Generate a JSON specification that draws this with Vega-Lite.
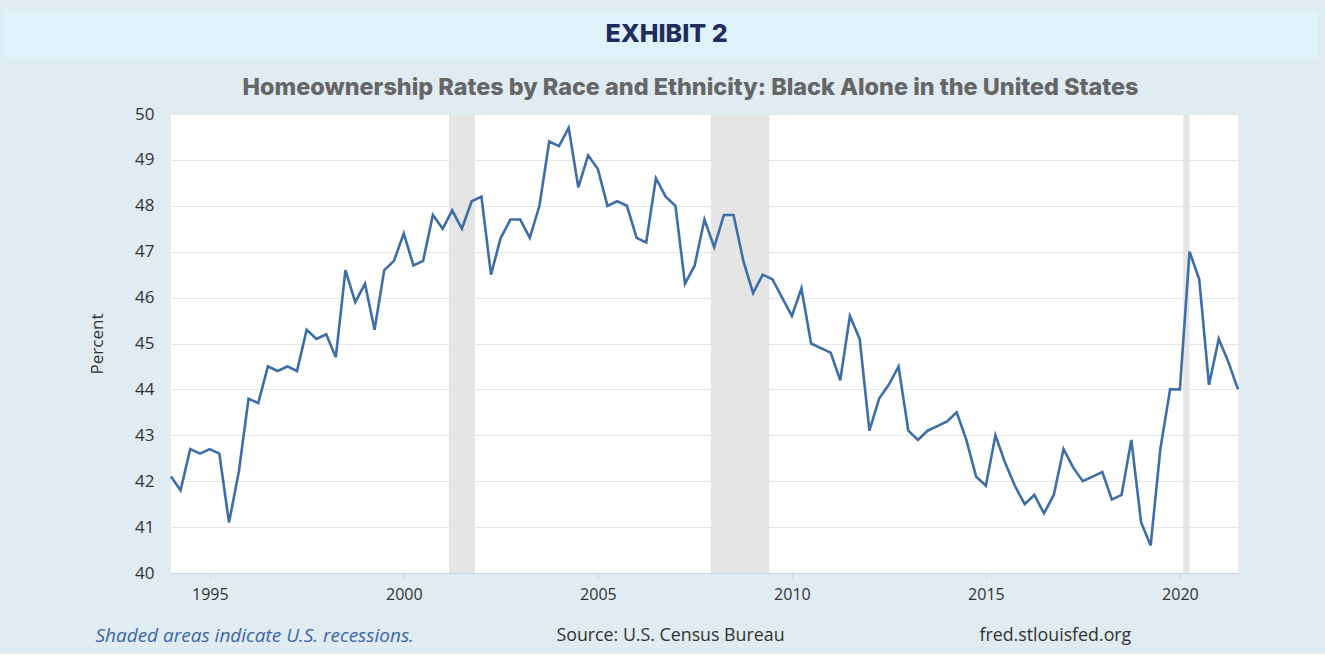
{
  "$schema": "https://vega.github.io/schema/vega-lite/v6.json",
  "background": "#e0ebf2",
  "padding": {"left": 3, "right": 7, "top": 10, "bottom": 1},
  "spacing": 17,
  "bounds": "full",
  "config": {
    "view": {"stroke": null},
    "font": "Open Sans"
  },
  "datasets": {
    "rates": [
      {"date": "1994-01-01", "rate": 42.1}, {"date": "1994-04-01", "rate": 41.8}, {"date": "1994-07-01", "rate": 42.7}, {"date": "1994-10-01", "rate": 42.6},
      {"date": "1995-01-01", "rate": 42.7}, {"date": "1995-04-01", "rate": 42.6}, {"date": "1995-07-01", "rate": 41.1}, {"date": "1995-10-01", "rate": 42.2},
      {"date": "1996-01-01", "rate": 43.8}, {"date": "1996-04-01", "rate": 43.7}, {"date": "1996-07-01", "rate": 44.5}, {"date": "1996-10-01", "rate": 44.4},
      {"date": "1997-01-01", "rate": 44.5}, {"date": "1997-04-01", "rate": 44.4}, {"date": "1997-07-01", "rate": 45.3}, {"date": "1997-10-01", "rate": 45.1},
      {"date": "1998-01-01", "rate": 45.2}, {"date": "1998-04-01", "rate": 44.7}, {"date": "1998-07-01", "rate": 46.6}, {"date": "1998-10-01", "rate": 45.9},
      {"date": "1999-01-01", "rate": 46.3}, {"date": "1999-04-01", "rate": 45.3}, {"date": "1999-07-01", "rate": 46.6}, {"date": "1999-10-01", "rate": 46.8},
      {"date": "2000-01-01", "rate": 47.4}, {"date": "2000-04-01", "rate": 46.7}, {"date": "2000-07-01", "rate": 46.8}, {"date": "2000-10-01", "rate": 47.8},
      {"date": "2001-01-01", "rate": 47.5}, {"date": "2001-04-01", "rate": 47.9}, {"date": "2001-07-01", "rate": 47.5}, {"date": "2001-10-01", "rate": 48.1},
      {"date": "2002-01-01", "rate": 48.2}, {"date": "2002-04-01", "rate": 46.5}, {"date": "2002-07-01", "rate": 47.3}, {"date": "2002-10-01", "rate": 47.7},
      {"date": "2003-01-01", "rate": 47.7}, {"date": "2003-04-01", "rate": 47.3}, {"date": "2003-07-01", "rate": 48.0}, {"date": "2003-10-01", "rate": 49.4},
      {"date": "2004-01-01", "rate": 49.3}, {"date": "2004-04-01", "rate": 49.7}, {"date": "2004-07-01", "rate": 48.4}, {"date": "2004-10-01", "rate": 49.1},
      {"date": "2005-01-01", "rate": 48.8}, {"date": "2005-04-01", "rate": 48.0}, {"date": "2005-07-01", "rate": 48.1}, {"date": "2005-10-01", "rate": 48.0},
      {"date": "2006-01-01", "rate": 47.3}, {"date": "2006-04-01", "rate": 47.2}, {"date": "2006-07-01", "rate": 48.6}, {"date": "2006-10-01", "rate": 48.2},
      {"date": "2007-01-01", "rate": 48.0}, {"date": "2007-04-01", "rate": 46.3}, {"date": "2007-07-01", "rate": 46.7}, {"date": "2007-10-01", "rate": 47.7},
      {"date": "2008-01-01", "rate": 47.1}, {"date": "2008-04-01", "rate": 47.8}, {"date": "2008-07-01", "rate": 47.8}, {"date": "2008-10-01", "rate": 46.8},
      {"date": "2009-01-01", "rate": 46.1}, {"date": "2009-04-01", "rate": 46.5}, {"date": "2009-07-01", "rate": 46.4}, {"date": "2009-10-01", "rate": 46.0},
      {"date": "2010-01-01", "rate": 45.6}, {"date": "2010-04-01", "rate": 46.2}, {"date": "2010-07-01", "rate": 45.0}, {"date": "2010-10-01", "rate": 44.9},
      {"date": "2011-01-01", "rate": 44.8}, {"date": "2011-04-01", "rate": 44.2}, {"date": "2011-07-01", "rate": 45.6}, {"date": "2011-10-01", "rate": 45.1},
      {"date": "2012-01-01", "rate": 43.1}, {"date": "2012-04-01", "rate": 43.8}, {"date": "2012-07-01", "rate": 44.1}, {"date": "2012-10-01", "rate": 44.5},
      {"date": "2013-01-01", "rate": 43.1}, {"date": "2013-04-01", "rate": 42.9}, {"date": "2013-07-01", "rate": 43.1}, {"date": "2013-10-01", "rate": 43.2},
      {"date": "2014-01-01", "rate": 43.3}, {"date": "2014-04-01", "rate": 43.5}, {"date": "2014-07-01", "rate": 42.9}, {"date": "2014-10-01", "rate": 42.1},
      {"date": "2015-01-01", "rate": 41.9}, {"date": "2015-04-01", "rate": 43.0}, {"date": "2015-07-01", "rate": 42.4}, {"date": "2015-10-01", "rate": 41.9},
      {"date": "2016-01-01", "rate": 41.5}, {"date": "2016-04-01", "rate": 41.7}, {"date": "2016-07-01", "rate": 41.3}, {"date": "2016-10-01", "rate": 41.7},
      {"date": "2017-01-01", "rate": 42.7}, {"date": "2017-04-01", "rate": 42.3}, {"date": "2017-07-01", "rate": 42.0}, {"date": "2017-10-01", "rate": 42.1},
      {"date": "2018-01-01", "rate": 42.2}, {"date": "2018-04-01", "rate": 41.6}, {"date": "2018-07-01", "rate": 41.7}, {"date": "2018-10-01", "rate": 42.9},
      {"date": "2019-01-01", "rate": 41.1}, {"date": "2019-04-01", "rate": 40.6}, {"date": "2019-07-01", "rate": 42.7}, {"date": "2019-10-01", "rate": 44.0},
      {"date": "2020-01-01", "rate": 44.0}, {"date": "2020-04-01", "rate": 47.0}, {"date": "2020-07-01", "rate": 46.4}, {"date": "2020-10-01", "rate": 44.1},
      {"date": "2021-01-01", "rate": 45.1}, {"date": "2021-04-01", "rate": 44.6}, {"date": "2021-07-01", "rate": 44.0}
    ],
    "recessions": [
      {"start": "2001-03-01", "end": "2001-11-01"},
      {"start": "2007-12-01", "end": "2009-06-01"},
      {"start": "2020-02-01", "end": "2020-04-01"}
    ],
    "notes": [
      {"slot": "left", "note": "Shaded areas indicate U.S. recessions."},
      {"slot": "middle", "note": "Source: U.S. Census Bureau"},
      {"slot": "right", "note": "fred.stlouisfed.org"}
    ]
  },
  "vconcat": [
    {
      "width": 1315,
      "height": 48,
      "view": {"fill": "#dff1f9", "stroke": null},
      "data": {"values": [{"label": "EXHIBIT 2"}]},
      "mark": {"type": "text", "font": "Inter", "fontWeight": 800, "fontSize": 25, "color": "#1f2d5c", "baseline": "middle", "align": "center", "dx": 6},
      "encoding": {"text": {"field": "label"}}
    },
    {
      "hconcat": [
        {
          "width": 85,
          "height": 459,
          "view": {"fill": "#e0ebf2", "stroke": null},
          "data": {"values": [{"blank": ""}]},
          "mark": {"type": "text"},
          "encoding": {"text": {"field": "blank"}}
        },
        {
          "width": 1067,
          "height": 459,
          "view": {"fill": "white", "stroke": null},
          "title": {
            "text": "Homeownership Rates by Race and Ethnicity: Black Alone in the United States",
            "font": "Inter",
            "fontWeight": 800,
            "fontSize": 23.4,
            "color": "#666666",
            "anchor": "middle",
            "dx": -14,
            "offset": 5
          },
          "layer": [
            {
              "data": {"name": "recessions"},
              "mark": {"type": "rect", "color": "#e5e5e5"},
              "encoding": {
                "x": {"field": "start", "type": "temporal"},
                "x2": {"field": "end"}
              }
            },
            {
              "data": {"name": "rates"},
              "mark": {"type": "line", "color": "#3d6fa6", "strokeWidth": 2.6},
              "encoding": {
                "x": {
                  "field": "date",
                  "type": "temporal",
                  "scale": {
                    "type": "utc",
                    "domain": [
                      {"year": 1994, "month": 1, "date": 1, "utc": true},
                      {"year": 2021, "month": 7, "date": 1, "utc": true}
                    ]
                  },
                  "axis": {
                    "title": null,
                    "format": "%Y",
                    "formatType": "utc",
                    "tickCount": {"interval": "year", "step": 5},
                    "grid": false,
                    "domainColor": "#c7d4e6",
                    "tickColor": "#c7d4e6",
                    "tickSize": 5,
                    "labelFont": "Open Sans",
                    "labelFontSize": 16,
                    "labelColor": "#333333",
                    "labelPadding": 8
                  }
                },
                "y": {
                  "field": "rate",
                  "type": "quantitative",
                  "scale": {"domain": [40, 50], "nice": false, "zero": false},
                  "axis": {
                    "title": "Percent",
                    "titleFont": "Open Sans",
                    "titleFontSize": 17,
                    "titleFontWeight": "normal",
                    "titleColor": "#333333",
                    "titlePadding": 28,
                    "values": [40, 41, 42, 43, 44, 45, 46, 47, 48, 49, 50],
                    "domain": false,
                    "ticks": false,
                    "labelPadding": 17,
                    "labelFont": "Open Sans",
                    "labelFontSize": 17,
                    "labelColor": "#333333",
                    "gridColor": "#e6e6e6",
                    "gridWidth": 1
                  }
                }
              }
            }
          ]
        }
      ],
      "spacing": 0,
      "bounds": "full"
    },
    {
      "width": 1315,
      "height": 34,
      "view": {"fill": "#e0ebf2", "stroke": null},
      "data": {"name": "notes"},
      "encoding": {
        "x": {"field": "slot", "type": "nominal", "scale": {"type": "point", "domain": ["left", "middle", "right"], "padding": 0.62}, "axis": null},
        "text": {"field": "note"}
      },
      "layer": [
        {
          "transform": [{"filter": "datum.slot === 'left'"}],
          "mark": {"type": "text", "font": "Open Sans", "fontStyle": "italic", "fontSize": 19, "color": "#3b67a6", "baseline": "middle"}
        },
        {
          "transform": [{"filter": "datum.slot === 'middle'"}],
          "mark": {"type": "text", "font": "Open Sans", "fontSize": 17.8, "color": "#333333", "baseline": "middle", "dx": 10}
        },
        {
          "transform": [{"filter": "datum.slot === 'right'"}],
          "mark": {"type": "text", "font": "Open Sans", "fontSize": 17.8, "color": "#333333", "baseline": "middle", "dx": -11}
        }
      ]
    }
  ]
}
